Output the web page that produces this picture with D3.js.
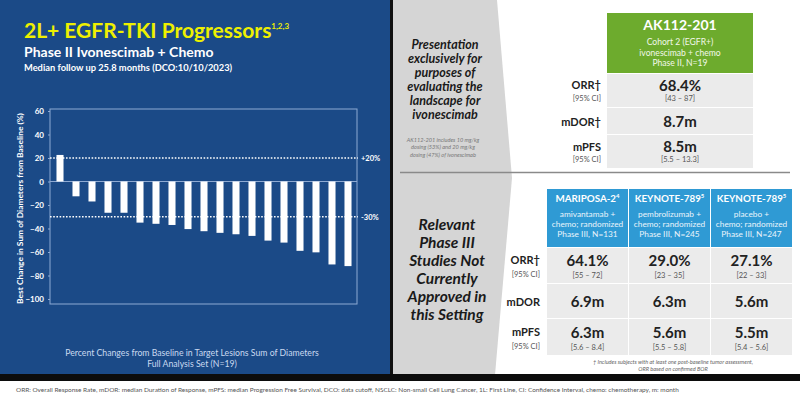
<!DOCTYPE html>
<html>
<head>
<meta charset="utf-8">
<script src="https://cdn.jsdelivr.net/npm/d3@7/dist/d3.min.js"></script>
<style>
  html, body { margin: 0; padding: 0; background: #fff; }
  svg { display: block; font-family: Lato, "Open Sans", sans-serif; }
</style>
</head>
<body>
<div class="chart"></div>
<script>
// waterfall: best % change per patient (N=19)
const changes = [22.6, -12.6, -17, -26.6, -26.6, -35, -36, -37, -40.5, -42.3, -43.7, -44.9, -46.3, -50.3, -52, -59, -60.3, -70.6, -72];
const yTicks = [60, 40, 20, 0, -20, -40, -60, -80, -100];
const refValues = [20, -30];
const refLabels = ['+20%', '-30%'];

// comparison tables
const rowLabels = ['ORR†', 'mDOR†', 'mPFS'];
const rowLabelsLower = ['ORR†', 'mDOR', 'mPFS'];
const rowSubs = ['[95% CI]', '', '[95% CI]'];

const akTitle = 'AK112-201';
const akDesc = ['Cohort 2 (EGFR+)', 'ivonescimab + chemo', 'Phase II, N=19'];
const akValues = ['68.4%', '8.7m', '8.5m'];
const akCI = ['[43 – 87]', '', '[5.5 – 13.3]'];

const studyNames = ['MARIPOSA-2', 'KEYNOTE-789', 'KEYNOTE-789'];
const studySups = ['4', '5', '5'];
const studyDesc = [
  ['amivantamab +', 'chemo; randomized', 'Phase III, N=131'],
  ['pembrolizumab +', 'chemo; randomized', 'Phase III, N=245'],
  ['placebo +', 'chemo; randomized', 'Phase III, N=247']
];
const orrValues = ['64.1%', '29.0%', '27.1%'];
const orrCI = ['[55 – 72]', '[23 – 35]', '[22 – 33]'];
const dorValues = ['6.9m', '6.3m', '5.6m'];
const pfsValues = ['6.3m', '5.6m', '5.5m'];
const pfsCI = ['[5.6 – 8.4]', '[5.5 – 5.8]', '[5.4 – 5.6]'];

const W = 800, H = 397;
const svg = d3.select('.chart').append('svg')
  .attr('width', W).attr('height', H);

// ---------- backgrounds ----------
svg.append('rect').attr('width', W).attr('height', H).attr('fill', '#fff');
svg.append('rect').attr('x', 0).attr('y', 0).attr('width', 391).attr('height', 375).attr('fill', '#1b4a87');
svg.append('polygon')
  .attr('points', '393,0 497,0 512,178 495,375 393,375')
  .attr('fill', '#d5d5d5');
svg.append('rect').attr('x', 390).attr('y', 0).attr('width', 3).attr('height', 375).attr('fill', '#111');
svg.append('rect').attr('x', 0).attr('y', 374).attr('width', W).attr('height', 7).attr('fill', '#0c0c0c');

// ---------- left panel titles ----------
const title = svg.append('text').attr('x', 24).attr('y', 38)
  .attr('fill', '#eef000').attr('font-size', 21).attr('font-weight', 'bold');
title.append('tspan').text('2L+ EGFR-TKI Progressors');
title.append('tspan').attr('font-size', 8).attr('dy', -9).text('1,2,3');

svg.append('text').attr('x', 24).attr('y', 57)
  .attr('fill', '#fff').attr('font-size', 14).attr('font-weight', 'bold')
  .text('Phase II Ivonescimab + Chemo');
svg.append('text').attr('x', 24).attr('y', 71)
  .attr('fill', '#fff').attr('font-size', 9.3).attr('font-weight', 'bold')
  .text('Median follow up 25.8 months (DCO:10/10/2023)');

// ---------- waterfall ----------
const plot = {left: 50, right: 357, top: 109, bottom: 304};
const y = d3.scaleLinear().domain([-100, 60]).range([299, 111]);
const x = d3.scaleBand().domain(d3.range(changes.length))
  .range([52, 356]).paddingInner(0.56).paddingOuter(0.28);

svg.append('rect')
  .attr('x', plot.left).attr('y', plot.top)
  .attr('width', plot.right - plot.left).attr('height', plot.bottom - plot.top)
  .attr('fill', 'none').attr('stroke', '#8eaad3').attr('stroke-width', 1);

svg.append('line')
  .attr('x1', plot.left).attr('x2', plot.right)
  .attr('y1', y(0)).attr('y2', y(0))
  .attr('stroke', '#8eaad3').attr('stroke-width', 1);

const yAxis = svg.append('g')
  .attr('transform', `translate(${plot.left},0)`)
  .call(d3.axisLeft(y).tickValues(yTicks).tickSize(2).tickPadding(4));
yAxis.select('.domain').remove();
yAxis.selectAll('line').attr('stroke', '#8eaad3');
yAxis.selectAll('text')
  .attr('fill', '#fff').attr('font-size', 8).attr('font-weight', 'bold')
  .attr('font-family', 'Lato, sans-serif');

svg.append('text')
  .attr('transform', `translate(23,${(plot.top + plot.bottom) / 2 + 2}) rotate(-90)`)
  .attr('text-anchor', 'middle')
  .attr('fill', '#fff').attr('font-size', 8.4).attr('font-weight', 'bold')
  .text('Best Change in Sum of Diameters from Baseline (%)');

svg.selectAll('.bar').data(changes).enter().append('rect')
  .attr('class', 'bar')
  .attr('x', (d, i) => x(i))
  .attr('width', x.bandwidth())
  .attr('y', d => y(Math.max(0, d)))
  .attr('height', d => Math.abs(y(d) - y(0)))
  .attr('fill', '#fff');

svg.selectAll('.ref').data(refValues).enter().append('line')
  .attr('class', 'ref')
  .attr('x1', plot.left).attr('x2', plot.right + 1)
  .attr('y1', d => y(d)).attr('y2', d => y(d))
  .attr('stroke', '#fff').attr('stroke-width', 1.4)
  .attr('stroke-dasharray', '1.6,1.6');

svg.selectAll('.refLabel').data(refValues).enter().append('text')
  .attr('x', 361).attr('y', d => y(d) + 3)
  .attr('fill', '#fff').attr('font-size', 7.5).attr('font-weight', 'bold')
  .text((d, i) => refLabels[i]);

svg.append('text').attr('x', 192).attr('y', 356)
  .attr('text-anchor', 'middle').attr('fill', '#c9d9f0').attr('font-size', 8.7)
  .text('Percent Changes from Baseline in Target Lesions Sum of Diameters');
svg.append('text').attr('x', 192).attr('y', 367)
  .attr('text-anchor', 'middle').attr('fill', '#c9d9f0').attr('font-size', 8.7)
  .text('Full Analysis Set (N=19)');

// ---------- gray panel texts ----------
const upperNote = ['Presentation', 'exclusively for', 'purposes of', 'evaluating the', 'landscape for', 'ivonescimab'];
svg.selectAll('.unote').data(upperNote).enter().append('text')
  .attr('x', 445).attr('y', (d, i) => 49 + i * 14)
  .attr('text-anchor', 'middle').attr('fill', '#1a1a1a')
  .attr('font-size', 12.5).attr('font-weight', 'bold').attr('font-style', 'italic')
  .text(d => d);

const smallNote = ['AK112-201 includes 10 mg/kg', 'dosing (53%) and 20 mg/kg', 'dosing (47%) of ivonescimab'];
svg.selectAll('.snote').data(smallNote).enter().append('text')
  .attr('x', 443).attr('y', (d, i) => 142 + i * 7.3)
  .attr('text-anchor', 'middle').attr('fill', '#777')
  .attr('font-size', 5.6).attr('font-style', 'italic')
  .text(d => d);

const lowerNote = ['Relevant', 'Phase III', 'Studies Not', 'Currently', 'Approved in', 'this Setting'];
svg.selectAll('.lnote').data(lowerNote).enter().append('text')
  .attr('x', 447).attr('y', (d, i) => 230 + i * 18)
  .attr('text-anchor', 'middle').attr('fill', '#1a1a1a')
  .attr('font-size', 15.5).attr('font-weight', 'bold').attr('font-style', 'italic')
  .text(d => d);

svg.append('line')
  .attr('x1', 400).attr('x2', 790).attr('y1', 172.5).attr('y2', 172.5)
  .attr('stroke', '#8a8a8a').attr('stroke-width', 1.5);

// ---------- upper table (AK112-201) ----------
const akX = 607, akW = 146;
const akRows = [[74, 107], [108, 134], [135, 168]];
svg.append('rect').attr('x', akX).attr('y', 13).attr('width', akW).attr('height', 60).attr('fill', '#6dab2d');
svg.append('text').attr('x', akX + akW / 2).attr('y', 30)
  .attr('text-anchor', 'middle').attr('fill', '#fff').attr('font-size', 14).attr('font-weight', 'bold')
  .text(akTitle);
svg.selectAll('.akdesc').data(akDesc).enter().append('text')
  .attr('x', akX + akW / 2).attr('y', (d, i) => 45 + i * 10.5)
  .attr('text-anchor', 'middle').attr('fill', '#f2f8ea').attr('font-size', 8.6)
  .text(d => d);

svg.selectAll('.akrow').data(akRows).enter().append('rect')
  .attr('x', akX).attr('y', d => d[0]).attr('width', akW).attr('height', d => d[1] - d[0])
  .attr('fill', '#ebebeb');

const akMainY = [91, 127, 152], akSubY = [101, 0, 162];
svg.selectAll('.akval').data(akValues).enter().append('text')
  .attr('x', akX + akW / 2).attr('y', (d, i) => akMainY[i])
  .attr('text-anchor', 'middle').attr('fill', '#222').attr('font-size', 15).attr('font-weight', 'bold')
  .text(d => d);
svg.selectAll('.akci').data(akCI).enter().append('text')
  .attr('x', akX + akW / 2).attr('y', (d, i) => akSubY[i])
  .attr('text-anchor', 'middle').attr('fill', '#555').attr('font-size', 7.5)
  .text(d => d);

const akLabelY = [89, 126, 151];
svg.selectAll('.aklab').data(rowLabels).enter().append('text')
  .attr('x', 601).attr('y', (d, i) => akLabelY[i])
  .attr('text-anchor', 'end').attr('fill', '#222').attr('font-size', 11).attr('font-weight', 'bold')
  .text(d => d);
svg.selectAll('.aksub').data(rowSubs).enter().append('text')
  .attr('x', 601).attr('y', (d, i) => akSubY[i])
  .attr('text-anchor', 'end').attr('fill', '#555').attr('font-size', 7.5)
  .text(d => d);

// ---------- lower table (Phase III) ----------
const colX = d3.scaleBand().domain(d3.range(studyNames.length)).range([547, 792]).paddingInner(0.012);
const lowRows = [[248, 283], [284, 318], [319, 355]];

const heads = svg.selectAll('.head').data(studyNames).enter().append('g')
  .attr('transform', (d, i) => `translate(${colX(i)},0)`);
heads.append('rect').attr('y', 189).attr('height', 58).attr('width', colX.bandwidth()).attr('fill', '#2f9ad4');
const hname = heads.append('text').attr('x', colX.bandwidth() / 2).attr('y', 202)
  .attr('text-anchor', 'middle').attr('fill', '#fff').attr('font-size', 9.8).attr('font-weight', 'bold');
hname.append('tspan').text(d => d);
hname.append('tspan').attr('font-size', 6).attr('dy', -4).text((d, i) => studySups[i]);
heads.each(function(d, i) {
  d3.select(this).selectAll('.desc').data(studyDesc[i]).enter().append('text')
    .attr('x', colX.bandwidth() / 2).attr('y', (t, j) => 217 + j * 10)
    .attr('text-anchor', 'middle').attr('fill', '#eaf4fb').attr('font-size', 8.3)
    .text(t => t);
  d3.select(this).selectAll('.cell').data(lowRows).enter().append('rect')
    .attr('y', r => r[0]).attr('height', r => r[1] - r[0]).attr('width', colX.bandwidth())
    .attr('fill', '#ebebeb');
});

const cellText = (vals, yPos, size, bold, color) => {
  svg.append('g').selectAll('text').data(vals).enter().append('text')
    .attr('x', (d, i) => colX(i) + colX.bandwidth() / 2).attr('y', yPos)
    .attr('text-anchor', 'middle').attr('fill', color).attr('font-size', size)
    .attr('font-weight', bold ? 'bold' : 'normal')
    .text(d => d);
};
cellText(orrValues, 266, 15, true, '#222');
cellText(orrCI, 278, 7.5, false, '#555');
cellText(dorValues, 307, 15, true, '#222');
cellText(pfsValues, 338, 15, true, '#222');
cellText(pfsCI, 350, 7.5, false, '#555');

const lowLabelY = [264, 306, 336], lowSubY = [277, 0, 349];
svg.selectAll('.lowlab').data(rowLabelsLower).enter().append('text')
  .attr('x', 540).attr('y', (d, i) => lowLabelY[i])
  .attr('text-anchor', 'end').attr('fill', '#222').attr('font-size', 11).attr('font-weight', 'bold')
  .text(d => d);
svg.selectAll('.lowsub').data(rowSubs).enter().append('text')
  .attr('x', 540).attr('y', (d, i) => lowSubY[i])
  .attr('text-anchor', 'end').attr('fill', '#555').attr('font-size', 7.5)
  .text(d => d);

const tableNote = ['† Includes subjects with at least one post-baseline tumor assessment,', 'ORR based on confirmed BOR'];
svg.selectAll('.tnote').data(tableNote).enter().append('text')
  .attr('x', 673).attr('y', (d, i) => 364 + i * 7)
  .attr('text-anchor', 'middle').attr('fill', '#666').attr('font-size', 5.6).attr('font-style', 'italic')
  .text(d => d);

// ---------- footer ----------
svg.append('text').attr('x', 16).attr('y', 392)
  .attr('fill', '#555').attr('font-size', 6.45)
  .text('ORR: Overall Response Rate, mDOR: median Duration of Response, mPFS: median Progression Free Survival, DCO: data cutoff, NSCLC: Non-small Cell Lung Cancer, 1L: First Line, CI: Confidence Interval, chemo: chemotherapy,   m: month');
</script>
</body>
</html>
